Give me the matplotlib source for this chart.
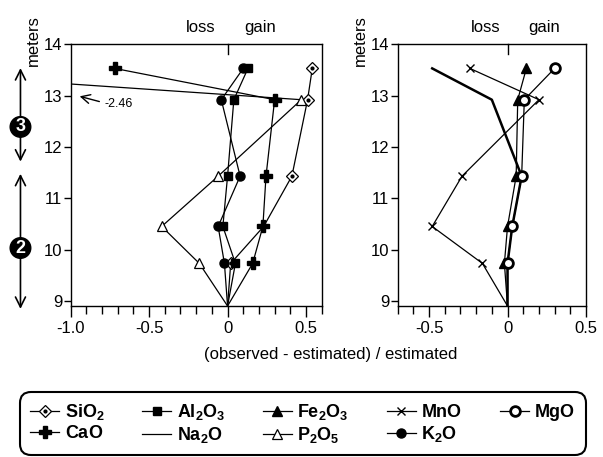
import matplotlib

matplotlib.use("Agg")
import matplotlib.pyplot as plt
from matplotlib.legend_handler import HandlerTuple
from matplotlib.lines import Line2D
from matplotlib.ticker import FixedLocator, MultipleLocator, FuncFormatter

plt.rcParams.update({
    "font.family": ["Liberation Sans", "DejaVu Sans"],
    "font.size": 11,
    "mathtext.fontset": "custom",
    "mathtext.rm": "Liberation Sans",
    "mathtext.bf": "Liberation Sans:bold",
    "mathtext.it": "Liberation Sans:italic",
    "axes.linewidth": 1.0,
})

# sample depths (m); first one is the parent reference at zero change
depths = [8.9, 9.73, 10.45, 11.43, 12.92, 13.53]

# left panel
sio2 = [0, 0.02, 0.23, 0.41, 0.51, 0.54]
al2o3 = [0, 0.05, -0.03, 0.0, 0.04, 0.13]
cao = [0, 0.16, 0.225, 0.245, 0.30, -0.72]
p2o5 = [0, -0.18, -0.42, -0.06, 0.47, -2.46]
k2o = [0, -0.02, -0.06, 0.08, -0.04, 0.10]

# right panel
fe2o3 = [0, -0.02, 0.0, 0.055, 0.065, 0.12]
mno = [0, -0.16, -0.48, -0.29, 0.20, -0.24]
na2o = [0, 0.0, 0.03, 0.09, -0.10, -0.48]
mgo = [0, 0.0, 0.03, 0.09, 0.107, 0.30]

fig = plt.figure(figsize=(6.03, 4.57), dpi=100)
ax1 = fig.add_axes([0.1172, 0.3304, 0.4163, 0.5727])
ax2 = fig.add_axes([0.6595, 0.3304, 0.3123, 0.5727])

lw = 0.9
marks = slice(1, None)
si_marks = [1, 3, 4, 5]

h_si, = ax1.plot(sio2, depths, color="k", lw=lw, marker="D", ms=6.5,
                 mfc="white", mec="k", mew=0.9, markevery=si_marks)
h_sid, = ax1.plot([sio2[i] for i in si_marks],
                  [depths[i] for i in si_marks],
                  ls="none", marker="o", ms=2, color="k")
h_p, = ax1.plot(p2o5, depths, color="k", lw=lw, marker="^", ms=7,
                mfc="white", mec="k", mew=0.9, markevery=marks)
h_ca, = ax1.plot(cao, depths, color="k", lw=lw, marker="P", ms=8.5,
                 mfc="k", mec="k", markevery=marks)
h_al, = ax1.plot(al2o3, depths, color="k", lw=lw, marker="s", ms=6,
                 mfc="k", mec="k", markevery=marks)
h_k, = ax1.plot(k2o, depths, color="k", lw=lw, marker="o", ms=6.5,
                mfc="k", mec="k", markevery=marks)

h_mn, = ax2.plot(mno, depths, color="k", lw=lw, marker="x", ms=6,
                 mew=1.0, markevery=marks)
ax2.plot(na2o, depths, color="k", lw=1.8)
h_fe, = ax2.plot(fe2o3, depths, color="k", lw=lw, marker="^", ms=7,
                 mfc="k", mec="k", markevery=marks)
h_mg, = ax2.plot(mgo, depths, color="k", lw=lw, marker="o", ms=7,
                 mfc="white", mec="k", mew=2.0, markevery=marks)

fmt = FuncFormatter(lambda v, p: "0" if abs(v) < 1e-9 else f"{v:.1f}")
for ax, xlim, majors in [(ax1, (-1.0, 0.6), [-1.0, -0.5, 0, 0.5]),
                         (ax2, (-0.7, 0.5), [-0.5, 0, 0.5])]:
    ax.set_xlim(*xlim)
    ax.set_ylim(8.9, 14.0)
    ax.xaxis.set_major_locator(FixedLocator(majors))
    ax.xaxis.set_minor_locator(MultipleLocator(0.1))
    ax.xaxis.set_major_formatter(fmt)
    ax.set_yticks([9, 10, 11, 12, 13, 14])
    ax.tick_params(axis="x", which="major", direction="out", length=8,
                   width=1.0, labelsize=12, pad=3)
    ax.tick_params(axis="x", which="minor", direction="out", length=6,
                   width=1.0)
    ax.tick_params(axis="y", direction="out", length=5, width=1.0,
                   labelsize=12, pad=1)
    # small zero mark under the top spine plus loss / gain labels
    ax.plot([0, 0], [14.0, 13.82], color="k", lw=1.0, clip_on=False)
    ax.text(-0.17 if ax is ax1 else -0.14, 14.33, "loss", ha="center",
            va="center", fontsize=12)
    ax.text(0.21 if ax is ax1 else 0.235, 14.33, "gain", ha="center",
            va="center", fontsize=12)

ax1.text(-0.15, 1.016, "meters", transform=ax1.transAxes, rotation=90,
         ha="center", va="center", fontsize=12)
ax2.text(-0.20, 1.016, "meters", transform=ax2.transAxes, rotation=90,
         ha="center", va="center", fontsize=12)

# off-scale P2O5 value
ax1.annotate("", xy=(-0.96, 13.0), xytext=(-0.80, 12.87),
             arrowprops=dict(arrowstyle="->", color="k", lw=1.0,
                             mutation_scale=16))
ax1.text(-0.785, 12.83, "-2.46", ha="left", va="center", fontsize=9)

# unit arrows on the far left
zones = [("3", 13.59, 11.66, 12.39), ("2", 11.53, 8.79, 10.03)]
for label, top, bottom, mid in zones:
    ax1.annotate("", xy=(-1.32, top), xytext=(-1.32, bottom),
                 annotation_clip=False,
                 arrowprops=dict(arrowstyle="<->", color="k", lw=1.2,
                                 mutation_scale=18))
    ax1.text(-1.32, mid, label, ha="center", va="center", color="white",
             fontsize=13, fontweight="bold", clip_on=False,
             bbox=dict(boxstyle="circle,pad=0.1", fc="k", ec="k"))

fig.text(331 / 603, 1 - 354 / 457, "(observed - estimated) / estimated",
         ha="center", va="center", fontsize=12)

h_na_leg = Line2D([], [], color="k", lw=lw)
handles = [(h_si, h_sid), h_ca, h_al, h_na_leg, h_fe, h_p, h_mn, h_k, h_mg]
labels = [r"$\mathbf{SiO_2}$", r"$\mathbf{CaO}$", r"$\mathbf{Al_2O_3}$",
          r"$\mathbf{Na_2O}$", r"$\mathbf{Fe_2O_3}$", r"$\mathbf{P_2O_5}$",
          r"$\mathbf{MnO}$", r"$\mathbf{K_2O}$", r"$\mathbf{MgO}$"]
leg = fig.legend(handles, labels, ncol=5, loc="center",
                 bbox_to_anchor=(15 / 603, 3 / 457, 576 / 603, 61 / 457),
                 mode="expand", fontsize=13, handlelength=1.6,
                 handletextpad=0.3, labelspacing=0.15, borderpad=0.35,
                 fancybox=True, edgecolor="k", framealpha=1,
                 handler_map={tuple: HandlerTuple(ndivide=1)})
leg.get_frame().set_linewidth(1.5)
leg.get_frame().set_boxstyle("round,pad=0.2,rounding_size=0.6")

fig.savefig("out.png", dpi=100)
